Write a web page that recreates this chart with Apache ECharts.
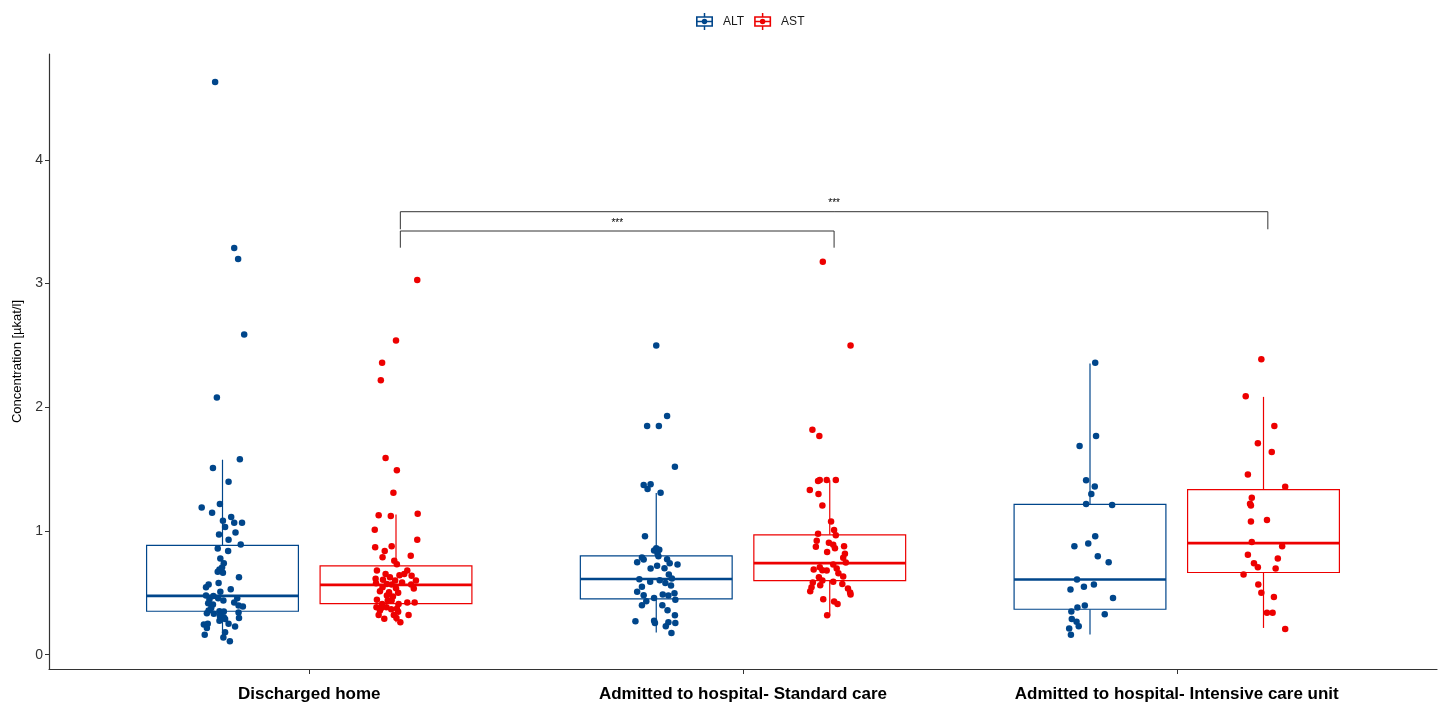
<!DOCTYPE html>
<html>
<head>
<meta charset="utf-8">
<script src="https://cdn.jsdelivr.net/npm/echarts@6/dist/echarts.min.js"></script>
<style>
  html, body { margin: 0; padding: 0; background: #ffffff; }
  #chart { width: 1446px; height: 707px; }
</style>
</head>
<body>
<div id="chart"></div>
<script>
// Patient groups along the x axis
const categories = ['Discharged home', 'Admitted to hospital- Standard care', 'Admitted to hospital- Intensive care unit'];
const yTicks = [0, 1, 2, 3, 4];

// Box statistics per group: [lower whisker, Q1, median, Q3, upper whisker] in µkat/l
const altBoxes = [
  [0.12, 0.351, 0.475, 0.883, 1.576],
  [0.18, 0.451, 0.612, 0.799, 1.306],
  [0.162, 0.367, 0.607, 1.215, 2.354]
];
const astBoxes = [
  [0.262, 0.413, 0.564, 0.718, 1.134],
  [0.316, 0.599, 0.740, 0.969, 1.409],
  [0.216, 0.664, 0.902, 1.334, 2.084]
];

// Individual measurements: [value in µkat/l, horizontal jitter in category units]
const altDischarged = [
  [4.63, -0.017], [3.287, 0.027], [3.198, 0.036], [2.589, 0.050], [2.078, -0.013],
  [1.579, 0.040], [1.509, -0.022], [1.398, 0.014], [1.190, -0.048], [1.217, -0.006],
  [1.147, -0.024], [1.082, 0.001], [1.112, 0.020], [1.066, 0.027], [1.066, 0.045],
  [1.031, 0.006], [0.988, 0.030], [0.972, -0.008], [0.929, 0.014], [0.891, 0.042],
  [0.858, -0.011], [0.837, 0.013], [0.777, -0.005], [0.739, 0.003], [0.704, -0.001],
  [0.688, -0.007], [0.670, -0.011], [0.662, 0.001], [0.626, 0.038], [0.567, -0.032],
  [0.545, -0.038], [0.580, -0.009], [0.529, 0.019], [0.508, -0.005], [0.478, -0.038],
  [0.475, -0.021], [0.448, -0.030], [0.456, -0.010], [0.456, 0.034], [0.437, 0.002],
  [0.416, -0.033], [0.405, -0.022], [0.421, 0.027], [0.397, 0.037], [0.389, 0.047],
  [0.378, -0.026], [0.356, -0.032], [0.351, -0.007], [0.348, 0.003], [0.334, -0.036],
  [0.330, -0.020], [0.340, 0.037], [0.313, -0.006], [0.302, 0.003], [0.297, 0.038],
  [0.275, -0.007], [0.289, 0.006], [0.243, -0.043], [0.249, -0.034], [0.249, 0.014],
  [0.216, -0.036], [0.227, 0.029], [0.160, -0.041], [0.181, 0.006], [0.138, 0.002],
  [0.108, 0.017]
];
const astDischarged = [
  [3.028, 0.049], [2.540, 0.000], [2.359, -0.032], [2.219, -0.035], [1.590, -0.024],
  [1.490, 0.002], [1.309, -0.006], [1.128, -0.040], [1.120, -0.012], [1.139, 0.050],
  [1.010, -0.049], [0.929, 0.049], [0.869, -0.048], [0.877, -0.010], [0.837, -0.026],
  [0.788, -0.031], [0.799, 0.034], [0.759, -0.004], [0.731, 0.002], [0.680, -0.044],
  [0.680, 0.026], [0.653, -0.024], [0.642, 0.008], [0.653, 0.019], [0.637, 0.036],
  [0.626, -0.014], [0.613, -0.047], [0.605, -0.030], [0.599, -0.002], [0.599, 0.046],
  [0.583, 0.014], [0.577, -0.046], [0.572, -0.021], [0.567, -0.010], [0.567, 0.035],
  [0.545, -0.031], [0.537, 0.000], [0.534, 0.041], [0.513, -0.037], [0.504, -0.016],
  [0.500, 0.005], [0.478, -0.021], [0.470, -0.007], [0.443, -0.044], [0.437, -0.019],
  [0.437, -0.010], [0.421, 0.026], [0.421, 0.043], [0.410, -0.032], [0.410, 0.006],
  [0.383, -0.045], [0.378, -0.034], [0.383, -0.022], [0.367, -0.011], [0.372, 0.002],
  [0.356, -0.037], [0.346, 0.005], [0.321, -0.040], [0.321, -0.005], [0.321, 0.029],
  [0.291, -0.027], [0.297, 0.001], [0.262, 0.010]
];
const altStandard = [
  [2.499, 0.000], [1.930, 0.025], [1.849, -0.021], [1.849, 0.006], [1.520, 0.043],
  [1.371, -0.029], [1.377, -0.013], [1.339, -0.020], [1.309, 0.010], [0.958, -0.026],
  [0.861, 0.000], [0.842, -0.005], [0.848, 0.007], [0.815, 0.003], [0.785, -0.033],
  [0.747, -0.044], [0.769, -0.029], [0.772, 0.025], [0.739, 0.031], [0.729, 0.049],
  [0.796, 0.005], [0.696, -0.013], [0.718, 0.002], [0.699, 0.019], [0.648, 0.029],
  [0.610, -0.039], [0.602, 0.008], [0.615, 0.036], [0.589, -0.014], [0.580, 0.021],
  [0.559, 0.034], [0.548, -0.033], [0.508, -0.044], [0.497, 0.042], [0.481, -0.029],
  [0.486, 0.015], [0.478, 0.028], [0.459, -0.005], [0.443, 0.044], [0.432, -0.023],
  [0.400, -0.033], [0.400, 0.014], [0.359, 0.026], [0.318, 0.043], [0.270, -0.048],
  [0.275, -0.005], [0.256, -0.003], [0.262, 0.028], [0.256, 0.044], [0.229, 0.022],
  [0.176, 0.035]
];
const astStandard = [
  [3.177, -0.016], [2.499, 0.048], [1.819, -0.040], [1.768, -0.024], [1.403, -0.027],
  [1.411, -0.023], [1.411, -0.007], [1.411, 0.014], [1.331, -0.046], [1.298, -0.026],
  [1.206, -0.017], [1.077, 0.003], [1.007, 0.010], [0.966, 0.014], [0.977, -0.027],
  [0.921, -0.030], [0.904, -0.002], [0.888, 0.008], [0.877, 0.033], [0.872, -0.032],
  [0.861, 0.012], [0.829, -0.006], [0.815, 0.035], [0.783, 0.031], [0.745, 0.037],
  [0.729, 0.008], [0.707, -0.023], [0.688, -0.037], [0.683, -0.017], [0.680, -0.007],
  [0.696, 0.016], [0.659, 0.020], [0.632, 0.031], [0.626, -0.025], [0.599, -0.017],
  [0.589, 0.008], [0.583, -0.039], [0.572, 0.029], [0.561, -0.022], [0.545, -0.042],
  [0.534, 0.042], [0.502, 0.047], [0.513, -0.045], [0.486, 0.048], [0.448, -0.015],
  [0.429, 0.010], [0.410, 0.018], [0.318, -0.006]
];
const altIcu = [
  [2.359, 0.012], [1.768, 0.014], [1.687, -0.024], [1.409, -0.009], [1.360, 0.011],
  [1.298, 0.003], [1.217, -0.009], [1.209, 0.051], [0.958, 0.012], [0.877, -0.036],
  [0.899, -0.004], [0.796, 0.018], [0.747, 0.043], [0.607, -0.030], [0.526, -0.045],
  [0.548, -0.014], [0.567, 0.009], [0.459, 0.053], [0.397, -0.012], [0.381, -0.029],
  [0.348, -0.043], [0.326, 0.034], [0.289, -0.042], [0.267, -0.031], [0.229, -0.026],
  [0.211, -0.048], [0.160, -0.044]
];
const astIcu = [
  [2.389, -0.005], [2.089, -0.041], [1.849, 0.025], [1.709, -0.013], [1.638, 0.019],
  [1.457, -0.036], [1.358, 0.050], [1.269, -0.027], [1.220, -0.031], [1.206, -0.029],
  [1.077, -0.029], [1.088, 0.008], [0.910, -0.027], [0.877, 0.043], [0.807, -0.036],
  [0.777, 0.033], [0.739, -0.022], [0.707, -0.013], [0.696, 0.028], [0.648, -0.046],
  [0.567, -0.012], [0.500, -0.005], [0.467, 0.024], [0.338, 0.008], [0.338, 0.021],
  [0.208, 0.050]
];

// Pairwise comparisons: [from group, to group, bracket top, left foot, right foot, label]
const comparisons = [
  [1, 2, 3.425, 3.29, 3.29, '***'],
  [1, 3, 3.581, 3.439, 3.439, '***']
];

const ALT_COLOR = '#00468B';
const AST_COLOR = '#ED0000';
const DODGE = 0.2;       // offset of each marker inside a group
const BOX_HALF = 0.175;  // half width of a box in category units
const BRACKET_SHIFT = 0.01;

function boxData(stats, shift) {
  return stats.map((s, i) => [i + 1 + shift].concat(s));
}
function pointData(groups, shift) {
  const out = [];
  groups.forEach((pts, i) => {
    pts.forEach(p => out.push([i + 1 + shift + p[1], p[0]]));
  });
  return out;
}

function renderBox(color) {
  return function (params, api) {
    const x = api.value(0);
    const lo = api.coord([x - BOX_HALF, api.value(2)]);
    const hi = api.coord([x + BOX_HALF, api.value(4)]);
    const mid = api.coord([x, api.value(3)]);
    const wMin = api.coord([x, api.value(1)]);
    const wMax = api.coord([x, api.value(5)]);
    const cx = mid[0];
    const thin = { stroke: color, lineWidth: 1.2, fill: null };
    return {
      type: 'group',
      children: [
        { type: 'line', shape: { x1: cx, y1: hi[1], x2: cx, y2: wMax[1] }, style: thin },
        { type: 'line', shape: { x1: cx, y1: lo[1], x2: cx, y2: wMin[1] }, style: thin },
        { type: 'rect', shape: { x: lo[0], y: hi[1], width: hi[0] - lo[0], height: lo[1] - hi[1] },
          style: { stroke: color, lineWidth: 1.2, fill: '#ffffff' } },
        { type: 'line', shape: { x1: lo[0], y1: mid[1], x2: hi[0], y2: mid[1] },
          style: { stroke: color, lineWidth: 2.6 } }
      ]
    };
  };
}

function renderBracket(params, api) {
  const x1 = api.value(0) + DODGE + BRACKET_SHIFT;
  const x2 = api.value(1) + DODGE + BRACKET_SHIFT;
  const a = api.coord([x1, api.value(2)]);
  const b = api.coord([x2, api.value(2)]);
  const footL = api.coord([x1, api.value(3)]);
  const footR = api.coord([x2, api.value(4)]);
  return {
    type: 'group',
    children: [
      { type: 'polyline',
        shape: { points: [[a[0], footL[1]], a, b, [b[0], footR[1]]] },
        style: { stroke: '#333333', lineWidth: 1, fill: null } },
      { type: 'text',
        style: { x: (a[0] + b[0]) / 2, y: a[1] - 3, text: comparisons[params.dataIndex][5],
          fill: '#000000', font: '10px "Liberation Sans", Arial, sans-serif',
          align: 'center', verticalAlign: 'bottom' } }
    ]
  };
}

// Legend glyph: outlined box with whiskers, median bar and a filled dot
const boxIcon = 'path://M0 3L16 3L16 13L0 13Z M1.5 4.5L1.5 11.5L14.5 11.5L14.5 4.5Z ' +
  'M1.5 7.3L14.5 7.3L14.5 8.7L1.5 8.7Z M7.3 0L8.7 0L8.7 3L7.3 3Z M7.3 13L8.7 13L8.7 16L7.3 16Z ' +
  'M5.4 8A2.6 2.6 0 1 1 10.6 8A2.6 2.6 0 1 1 5.4 8Z';

const chart = echarts.init(document.getElementById('chart'), null, { renderer: 'canvas' });
const FONT = '"Liberation Sans", Arial, Helvetica, sans-serif';

chart.setOption({
  animation: false,
  backgroundColor: '#ffffff',
  legend: {
    top: 8,
    left: 691,
    itemWidth: 17,
    itemHeight: 17,
    itemGap: 10,
    textStyle: { fontFamily: FONT, fontSize: 12, color: '#1a1a1a', padding: [0, 0, 0, 5] },
    data: [{ name: 'ALT', icon: boxIcon }, { name: 'AST', icon: boxIcon }]
  },
  grid: { left: 49, right: 9, top: 54, bottom: 38, containLabel: false, outerBoundsMode: 'none' },
  xAxis: {
    type: 'value',
    min: 0.4,
    max: 3.6,
    axisLine: { show: true, onZero: false, lineStyle: { color: '#333333', width: 1.2 } },
    axisTick: { show: true, customValues: [1, 2, 3], length: 5, lineStyle: { color: '#333333' } },
    axisLabel: {
      customValues: [1, 2, 3],
      formatter: v => categories[Math.round(v) - 1],
      fontFamily: FONT, fontSize: 17, fontWeight: 'bold', color: '#000000', margin: 17
    },
    splitLine: { show: false }
  },
  yAxis: {
    type: 'value',
    min: -0.116,
    max: 4.856,
    name: 'Concentration [µkat/l]',
    nameLocation: 'middle',
    nameGap: 24,
    nameTextStyle: { fontFamily: FONT, fontSize: 13, color: '#000000' },
    axisLine: { show: true, onZero: false, lineStyle: { color: '#333333', width: 1.2 } },
    axisTick: { show: true, customValues: yTicks, length: 4, lineStyle: { color: '#333333' } },
    axisLabel: { customValues: yTicks, fontFamily: FONT, fontSize: 14, color: '#333333', margin: 6 },
    splitLine: { show: false }
  },
  series: [
    { name: 'ALT', type: 'custom', renderItem: renderBox(ALT_COLOR), data: boxData(altBoxes, -DODGE),
      itemStyle: { color: ALT_COLOR }, z: 2 },
    { name: 'AST', type: 'custom', renderItem: renderBox(AST_COLOR), data: boxData(astBoxes, DODGE),
      itemStyle: { color: AST_COLOR }, z: 2 },
    { name: 'ALT', type: 'scatter', symbolSize: 6.5, itemStyle: { color: ALT_COLOR, opacity: 1 },
      data: pointData([altDischarged, altStandard, altIcu], -DODGE), z: 3 },
    { name: 'AST', type: 'scatter', symbolSize: 6.5, itemStyle: { color: AST_COLOR, opacity: 1 },
      data: pointData([astDischarged, astStandard, astIcu], DODGE), z: 3 },
    { name: 'comparisons', type: 'custom', renderItem: renderBracket, data: comparisons.map(c => c.slice(0, 5)),
      silent: true, z: 4 }
  ]
});
</script>
</body>
</html>
